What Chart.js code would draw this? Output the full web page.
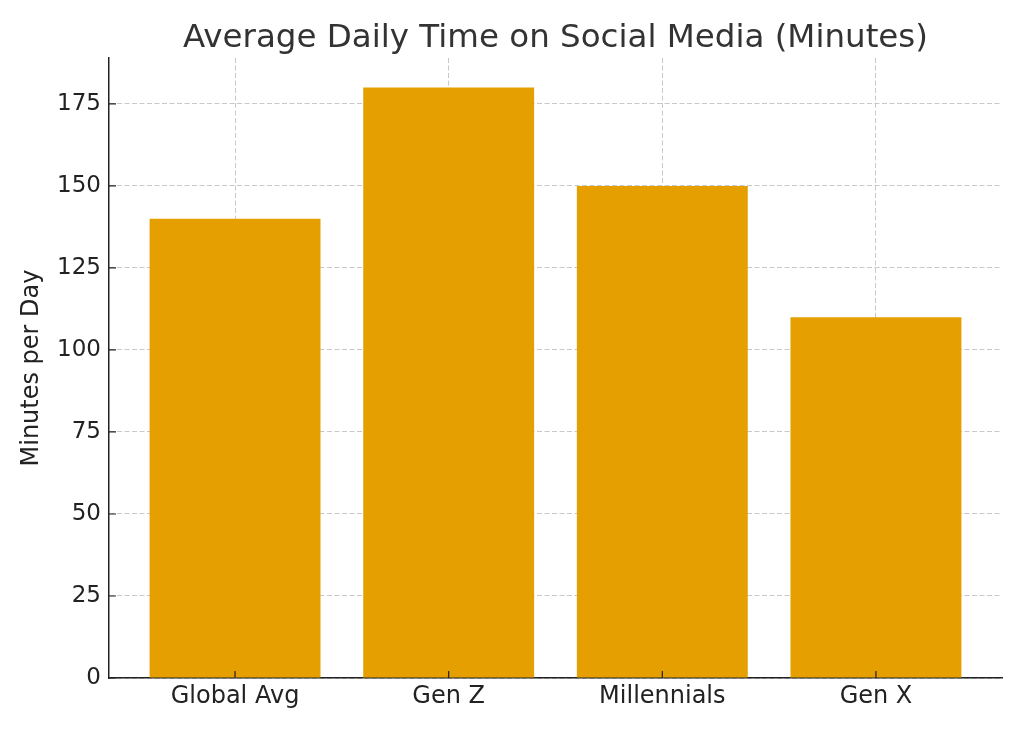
<!DOCTYPE html>
<html>
<head>
<meta charset="utf-8">
<script src="https://cdn.jsdelivr.net/npm/chart.js@4/dist/chart.umd.min.js"></script>
<style>
  html, body { margin: 0; padding: 0; background: #fff; }
  #wrap { width: 1024px; height: 731px; }
</style>
</head>
<body>
<div id="wrap"><canvas id="chart"></canvas></div>
<script>
const categories = ['Global Avg', 'Gen Z', 'Millennials', 'Gen X'];
const minutes = [140, 180, 150, 110];
const yTicks = [0, 25, 50, 75, 100, 125, 150, 175];
const chartTitle = 'Average Daily Time on Social Media (Minutes)';

const font = 'DejaVu Sans';
const gridColor = 'rgba(176, 176, 176, 0.7)';

// title centred over the plot area, like matplotlib does it
const plotTitle = {
  id: 'plotTitle',
  afterDraw(chart) {
    const { ctx, chartArea } = chart;
    ctx.save();
    ctx.fillStyle = '#333';
    ctx.font = `32.5px "${font}"`;
    ctx.textAlign = 'center';
    ctx.textBaseline = 'alphabetic';
    ctx.fillText(chartTitle, (chartArea.left + chartArea.right) / 2, 47);
    ctx.restore();
  }
};

// matplotlib style inward tick marks on the left and bottom spines
const innerTicks = {
  id: 'innerTicks',
  afterDraw(chart) {
    const { ctx, chartArea, scales } = chart;
    ctx.save();
    ctx.strokeStyle = '#222';
    ctx.lineWidth = 1.2;
    ctx.beginPath();
    scales.y.ticks.forEach(t => {
      const y = scales.y.getPixelForValue(t.value);
      ctx.moveTo(chartArea.left, y);
      ctx.lineTo(chartArea.left + 7, y);
    });
    scales.x.ticks.forEach(t => {
      const x = scales.x.getPixelForValue(t.value);
      ctx.moveTo(x, chartArea.bottom);
      ctx.lineTo(x, chartArea.bottom - 7);
    });
    ctx.stroke();
    ctx.restore();
  }
};

new Chart(document.getElementById('chart'), {
  type: 'bar',
  data: {
    datasets: [{
      data: minutes.map((v, i) => ({ x: i, y: v })),
      backgroundColor: '#E69F00',
      borderWidth: 0,
      barPercentage: 0.8,
      categoryPercentage: 1.0,
    }],
  },
  options: {
    responsive: true,
    maintainAspectRatio: false,
    animation: false,
    layout: { padding: { left: 0, right: 22, top: 58, bottom: 0 } },
    plugins: {
      legend: { display: false },
      tooltip: { enabled: false },
    },
    scales: {
      x: {
        type: 'linear',
        min: -0.59,
        max: 3.59,
        offset: false,
        z: 1,
        afterBuildTicks: scale => {
          scale.ticks = categories.map((c, i) => ({ value: i }));
        },
        afterFit: scale => { scale.height = 53; },
        ticks: {
          color: '#222',
          font: { family: font, size: 24 },
          padding: 4,
          maxRotation: 0,
          autoSkip: false,
          callback: value => categories[value],
        },
        grid: {
          color: gridColor,
          lineWidth: 1,
          offset: false,
          drawTicks: false,
        },
        border: { display: true, color: '#222', width: 1.5, dash: [5, 2.5] },
      },
      y: {
        min: 0,
        max: 189,
        z: 1,
        afterBuildTicks: scale => {
          scale.ticks = yTicks.map(v => ({ value: v }));
        },
        afterFit: scale => { scale.width = 109; },
        ticks: {
          color: '#222',
          font: { family: font, size: 23 },
          padding: 8,
        },
        grid: {
          color: gridColor,
          lineWidth: 1,
          drawTicks: false,
        },
        border: { display: true, color: '#222', width: 1.5, dash: [5, 2.5] },
        title: {
          display: true,
          text: 'Minutes per Day',
          color: '#222',
          font: { family: font, size: 24 },
          padding: { top: 17, bottom: 0 },
        },
      },
    },
  },
  plugins: [innerTicks, plotTitle],
});
</script>
</body>
</html>
